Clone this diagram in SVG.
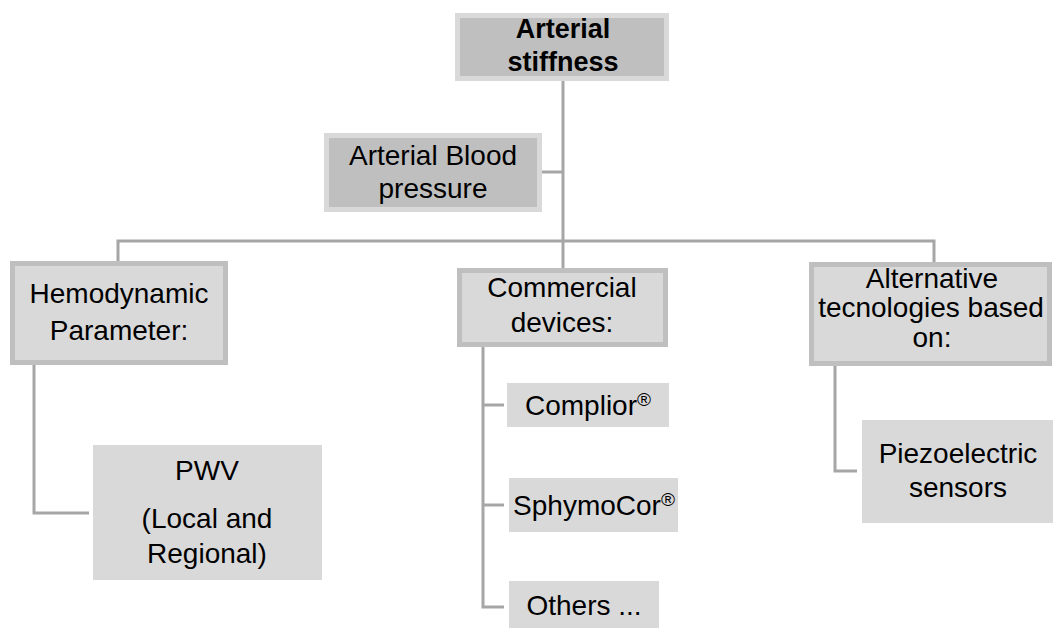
<svg xmlns="http://www.w3.org/2000/svg" width="1053" height="628" viewBox="0 0 1053 628">
<style>
.dark{fill:#bfbfbf;stroke:#d9d9d9;stroke-width:5}
.lite{fill:#d9d9d9;stroke:#bfbfbf;stroke-width:5}
.plain{fill:#d9d9d9}
text{font-family:"Liberation Sans",Arial,sans-serif;font-size:28px;fill:#000;text-anchor:middle}
.b{font-weight:bold;font-size:27px}
.r{font-size:19px}
.c line,.c polyline{stroke:#a6a6a6;stroke-width:3;fill:none}
</style>
<rect width="1053" height="628" fill="#fff"/>
<g class="c" id="connectors">
<line x1="563" y1="81" x2="563" y2="242"/>
<line x1="542" y1="172" x2="563" y2="172"/>
<polyline points="118,262 118,241 934,241 934,262"/>
<line x1="563" y1="241" x2="563" y2="268"/>
<polyline points="34,365 34,513 89,513"/>
<polyline points="483,347 483,607 504,607"/>
<line x1="483" y1="405" x2="504" y2="405"/>
<line x1="483" y1="505" x2="504" y2="505"/>
<polyline points="835,365 835,471 857,471"/>
</g>
<g id="arterial-stiffness">
<rect class="dark" x="457.5" y="15.5" width="209" height="63"/>
<text class="b" x="563" y="38">Arterial</text>
<text class="b" x="563" y="71">stiffness</text>
</g>
<g id="blood-pressure">
<rect class="dark" x="326.5" y="135.5" width="213" height="74"/>
<text x="433" y="165">Arterial Blood</text>
<text x="433" y="198">pressure</text>
</g>
<g id="hemodynamic">
<rect class="lite" x="12.5" y="263.5" width="213" height="99"/>
<text x="119" y="303">Hemodynamic</text>
<text x="119" y="340">Parameter:</text>
</g>
<g id="commercial">
<rect class="lite" x="459.5" y="270.5" width="206" height="74"/>
<text x="562" y="297">Commercial</text>
<text x="562" y="332">devices:</text>
</g>
<g id="alternative">
<rect class="lite" x="811.5" y="264.5" width="238" height="99"/>
<text x="932" y="288">Alternative</text>
<text x="931" y="317">tecnologies based</text>
<text x="932" y="347">on:</text>
</g>
<g id="pwv">
<rect class="plain" x="93" y="445" width="229" height="135"/>
<text x="207" y="480">PWV</text>
<text x="207" y="528">(Local and</text>
<text x="207" y="563">Regional)</text>
</g>
<g id="complior">
<rect class="plain" x="507" y="383" width="162" height="44"/>
<text x="588" y="415">Complior<tspan class="r" dy="-9">®</tspan></text>
</g>
<g id="sphymocor">
<rect class="plain" x="509" y="478" width="169" height="54"/>
<text x="594" y="515">SphymoCor<tspan class="r" dy="-9">®</tspan></text>
</g>
<g id="others">
<rect class="plain" x="509" y="581" width="150" height="47"/>
<text x="584" y="615">Others ...</text>
</g>
<g id="piezo">
<rect class="plain" x="862" y="420" width="191" height="103"/>
<text x="958" y="463">Piezoelectric</text>
<text x="958" y="497">sensors</text>
</g>
</svg>
